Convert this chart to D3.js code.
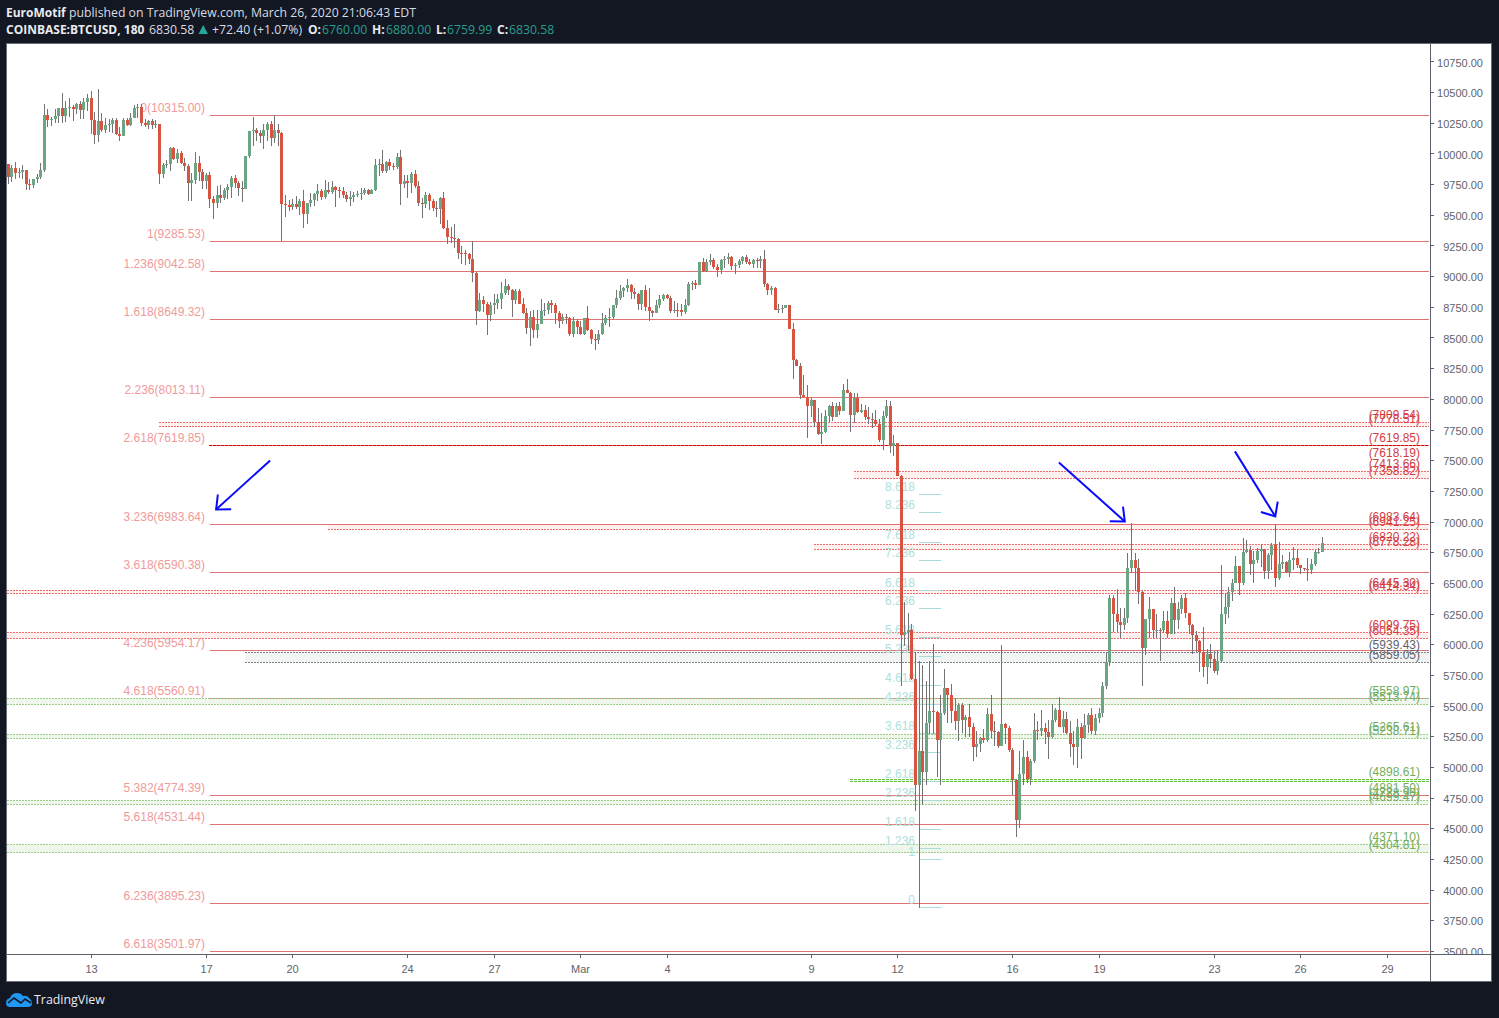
<!DOCTYPE html>
<html><head><meta charset="utf-8">
<script src="https://cdnjs.cloudflare.com/ajax/libs/d3/7.8.5/d3.min.js"></script>
<style>html,body{margin:0;padding:0;background:#131722;overflow:hidden}svg{display:block}</style>
</head><body><div id="c"></div>
<script>
const firstOpen = 9915;
const closes = [
9812,9888,9842,9855,9866,9755,9750,9793,9809,9866,
10314,10276,10282,10306,10371,10306,10377,10380,10366,10404,
10355,10426,10453,10276,10154,10268,10192,10233,10246,10274,
10159,10146,10274,10236,10295,10377,10380,10255,10236,10268,
10236,10246,9833,9907,9915,10048,9958,10005,9923,9899,
9760,9785,9923,9852,9779,9828,9630,9597,9662,9638,
9703,9730,9801,9760,9722,9714,9980,10187,10192,10170,
10143,10192,10241,10132,10192,10168,9594,9580,9564,9588,
9564,9613,9509,9596,9621,9670,9694,9645,9710,9686,
9727,9710,9694,9662,9629,9653,9662,9670,9678,9710,
9670,9710,9906,9914,9857,9931,9898,9890,9971,9751,
9776,9762,9833,9735,9596,9588,9662,9613,9556,9550,
9637,9393,9327,9316,9303,9192,9189,9181,9143,9029,
8719,8806,8773,8684,8765,8789,8814,8863,8923,8887,
8806,8879,8781,8700,8578,8667,8569,8618,8716,8732,
8784,8765,8700,8635,8675,8659,8529,8635,8586,8529,
8659,8561,8488,8480,8529,8626,8659,8667,8765,8822,
8879,8904,8928,8871,8855,8781,8887,8749,8716,8700,
8765,8814,8847,8822,8716,8732,8728,8708,8765,8944,
8947,8931,9116,9042,9116,9132,9075,9058,9132,9140,
9156,9083,9091,9124,9164,9116,9099,9132,9124,9140,
8936,8887,8904,8732,8738,8741,8766,8575,8320,8268,
8032,8020,7942,7991,7812,7714,7730,7861,7942,7853,
7942,7902,8073,8048,7869,8008,7893,7910,7853,7836,
7830,7796,7665,7861,7942,7619,7646,7372,6076,6103,
6117,5717,4856,5138,4962,5364,5456,5453,5220,5440,
5644,5587,5464,5375,5505,5383,5415,5326,5163,5187,
5244,5220,5432,5301,5285,5171,5350,5318,5146,4894,
4568,4943,5089,4902,5049,5309,5293,5318,5285,5252,
5383,5472,5326,5391,5277,5187,5163,5326,5236,5342,
5424,5293,5399,5440,5663,5861,6378,6247,6185,6157,
6220,6628,6687,6622,6429,5970,6212,6288,6117,6122,
6118,6190,6084,6337,6198,6288,6378,6255,6157,6076,
6027,5937,5815,5921,5880,5783,5864,6247,6304,6426,
6500,6638,6500,6753,6769,6655,6687,6761,6777,6598,
6728,6810,6541,6655,6671,6589,6693,6704,6647,6622,
6614,6610,6655,6753,6758,6830.58];
const highs = [
9915,9907,9934,9888,9907,9866,9793,9798,9833,9923,
10404,10363,10301,10363,10377,10494,10431,10453,10399,10418,
10431,10453,10485,10513,10344,10526,10336,10295,10282,10295,
10295,10222,10295,10295,10336,10399,10404,10404,10282,10274,
10282,10274,10246,9929,9948,10056,10056,10037,10024,9969,
9915,9847,10013,9983,9874,9847,9855,9657,9738,9744,
9725,9752,9820,9828,9779,9779,9983,10187,10303,10214,
10192,10241,10263,10268,10317,10241,10176,9662,9624,9629,
9656,9629,9702,9596,9678,9683,9751,9716,9787,9773,
9776,9738,9729,9727,9689,9697,9689,9697,9719,9724,
9716,9716,9955,9960,10036,9941,9955,9928,10004,10036,
9825,9825,9854,9873,9778,9643,9689,9678,9629,9615,
9651,9689,9458,9401,9433,9311,9249,9221,9194,9289,
9034,8863,8841,8792,8792,8855,8855,8955,8977,8944,
8901,8901,8901,8828,8746,8719,8732,8727,8819,8787,
8800,8806,8787,8719,8692,8692,8673,8673,8656,8637,
8659,8760,8575,8534,8569,8705,8684,8746,8765,8895,
8928,8917,8977,8936,8904,8863,8887,8928,8904,8732,
8809,8847,8855,8855,8841,8798,8787,8773,8814,8958,
8963,8972,9118,9154,9140,9181,9154,9107,9140,9167,
9189,9167,9113,9140,9167,9173,9140,9140,9154,9167,
9221,8950,8923,8912,8773,8766,8766,8766,8619,8325,
8298,8195,8114,8013,7991,7931,7885,7910,7950,7978,
7972,7978,8122,8162,8056,8048,8048,7959,7950,7934,
7891,7910,7836,7902,7991,7983,7706,7646,7380,6348,
6255,6171,5943,5867,5832,5704,5867,6003,5459,5587,
5799,5636,5677,5568,5527,5527,5430,5519,5364,5296,
5250,5315,5484,5587,5378,5294,5995,5364,5337,5155,
4902,5133,5220,5133,5065,5440,5377,5472,5364,5383,
5521,5486,5576,5459,5453,5377,5296,5391,5364,5432,
5445,5486,5432,5486,5696,5940,6402,6402,6451,6299,
6301,6744,6994,6744,6695,6437,6212,6391,6288,6247,
6138,6274,6274,6383,6473,6348,6402,6424,6261,6171,
6111,6038,6147,5962,6003,5948,5956,6647,6418,6473,
6538,6723,6641,6872,6853,6804,6763,6791,6823,6769,
6750,6831,6986,6839,6728,6682,6755,6799,6782,6649,
6622,6709,6701,6772,6791,6880];
const lows = [
9757,9771,9793,9806,9793,9706,9706,9719,9760,9793,
9852,10222,10227,10255,10255,10255,10263,10301,10268,10322,
10282,10282,10350,10165,10083,10100,10181,10173,10181,10173,
10154,10105,10146,10227,10227,10290,10295,10227,10219,10200,
10200,10214,9757,9801,9888,9861,9948,9929,9915,9861,
9616,9616,9757,9779,9711,9711,9562,9467,9556,9602,
9621,9630,9643,9725,9657,9611,9714,9969,10064,10105,
10092,10037,10105,10064,10092,10064,9293,9485,9534,9539,
9553,9499,9395,9431,9566,9575,9615,9621,9634,9670,
9670,9564,9637,9643,9607,9575,9607,9645,9621,9664,
9664,9670,9697,9819,9844,9844,9873,9873,9879,9583,
9719,9637,9678,9719,9575,9474,9556,9542,9534,9488,
9425,9390,9262,9276,9230,9140,9099,9091,9099,8955,
8602,8708,8711,8521,8635,8692,8738,8738,8847,8847,
8667,8773,8775,8692,8534,8434,8496,8501,8610,8678,
8692,8700,8610,8578,8618,8610,8515,8510,8529,8521,
8521,8556,8447,8398,8447,8521,8602,8588,8656,8746,
8808,8836,8874,8814,8814,8732,8732,8719,8637,8673,
8705,8746,8800,8814,8700,8700,8673,8678,8692,8760,
8895,8901,8928,9039,9039,9091,9064,8996,9018,9072,
9099,9058,9018,9072,9107,9099,9091,9067,9072,9072,
8914,8847,8847,8732,8700,8706,8741,8570,8162,8268,
7999,8020,7681,7853,7777,7706,7633,7722,7815,7823,
7853,7869,7902,8048,7730,7804,7885,7885,7828,7796,
7763,7782,7652,7584,7850,7559,7537,7372,5660,5990,
5948,5710,4644,3856,4690,4853,5269,5269,4924,4853,
5425,5359,5359,5304,5215,5277,5250,5250,5052,5087,
5125,5200,5207,5242,5174,5160,5171,5190,5125,4774,
4432,4503,4861,4875,4861,5038,5220,5255,5187,5065,
5242,5369,5326,5282,5274,5084,5016,4992,5065,5233,
5282,5269,5261,5364,5410,5636,5826,6106,6106,6054,
6119,6174,6587,6437,6329,5663,5916,6057,6052,6057,
5864,6098,6052,6090,6084,6125,6247,6220,6084,5921,
5943,5780,5736,5677,5812,5772,5750,5859,6166,6215,
6356,6500,6402,6484,6744,6568,6500,6663,6636,6532,
6532,6606,6467,6527,6614,6587,6554,6606,6628,6579,
6600,6516,6573,6641,6742,6759.99];

const timeTickIndex = [23,55,79,111,135,159,183,223,247,279,303,335,359,383];
const timeTickLabels = ["13","17","20","24","27","Mar","4","9","12","16","19","23","26","29"];

const fibLevels = ["0","1","1.236","1.618","2.236","2.618","3.236","3.618","4.236","4.618","5.382","5.618","6.236","6.618"];
const fibPrices = [10315.00,9285.53,9042.58,8649.32,8013.11,7619.85,6983.64,6590.38,5954.17,5560.91,4774.39,4531.44,3895.23,3501.97];

const zoneTop    = [7809.54,7619.85,7413.66,6983.64,6820.22,6445.30,6099.75,5939.43,5558.97,5265.61,4898.61,4728.90,4371.10];
const zoneBottom = [7778.51,7618.19,7358.82,6941.25,6778.28,6414.34,6054.35,5859.05,5513.74,5238.71,4881.50,4699.47,4304.81];
const zoneStartIndex = [42,56,235,89,224,0,0,66,0,0,234,0,0];
const zoneKinds = ["r","d","r","r","r","r","r","g","n","n","s","n","n"];

const tealLevels = ["0","1","1.236","1.618","2.236","2.618","3.236","3.618","4.236","4.618","5.236","5.618","6.236","6.618","7.236","7.618","8.236","8.618"];
const tealPrices = [3859,4250,4342,4491,4733,4882,5124,5273,5515,5664,5906,6055,6297,6446,6688,6837,7079,7228];

const arrowStartIndex = [72.9,292,340.9];
const arrowStartPrice = [7502,7486,7576];
const arrowEndIndex = [57.9,310.3,352.1];
const arrowEndPrice = [7103,7005,7046];

const W=1499,H=1018,L=7,R=1430,T=44,B=954,RE=1491,BE=981;
const x=d3.scaleLinear().domain([0,1]).range([7.7,11.3]);
const y=d3.scaleLinear().domain([10750,3500]).range([61.9,951.5]);
const yp=p=>Math.floor(y(p))+0.5;
const svg=d3.select("#c").append("svg").attr("width",W).attr("height",H).attr("viewBox",`0 0 ${W} ${H}`);
const LAB='"Liberation Sans",Arial,sans-serif', HDR='"Open Sans","Noto Sans",sans-serif';

svg.append("rect").attr("width",W).attr("height",H).attr("fill","#131722");
svg.append("rect").attr("x",L).attr("y",T).attr("width",RE-L).attr("height",BE-T).attr("fill","#fff");

const defs=svg.append("defs");
defs.append("clipPath").attr("id","plot").append("rect").attr("x",L).attr("y",T).attr("width",R-L).attr("height",B-T);
defs.append("clipPath").attr("id","axisY").append("rect").attr("x",R).attr("y",T).attr("width",RE-R).attr("height",B-T);

const plot=svg.append("g").attr("clip-path","url(#plot)");

// main fib lines
fibPrices.forEach(p=>plot.append("line").attr("x1",210).attr("x2",1429).attr("y1",yp(p)).attr("y2",yp(p))
  .attr("stroke","#de7474").attr("shape-rendering","crispEdges"));
// zones
const zc={r:{s:"#ee6e6e",f:"rgba(244,67,54,0.08)",t:"#d43d3d",d:"2 1"},d:{s:"#e80000",f:"rgba(244,67,54,0.08)",t:"#d43d3d",d:"3 1"},
  g:{s:"#808488",f:"rgba(110,125,125,0.09)",t:"#5f6368",d:"2 1"},n:{s:"#9ccb86",f:"rgba(120,180,90,0.12)",t:"#73ad5c",d:"2 1"},s:{s:"#66c23f",f:"rgba(120,180,90,0.12)",t:"#73ad5c",d:"3 1"}};
const xStart=i=>i===0?L:x(i);
zoneTop.forEach((t,i)=>{
  const c=zc[zoneKinds[i]],x0=xStart(zoneStartIndex[i]);
  plot.append("rect").attr("x",x0).attr("y",y(t)).attr("width",1429-x0).attr("height",y(zoneBottom[i])-y(t)).attr("fill",c.f);
  const rows=zoneKinds[i]==="d"?[t]:[t,zoneBottom[i]];
  rows.forEach(p=>plot.append("line").attr("x1",x0).attr("x2",1429).attr("y1",yp(p)).attr("y2",yp(p))
    .attr("stroke",c.s).attr("stroke-dasharray",c.d).attr("shape-rendering","crispEdges"));
});
plot.selectAll("text.fib").data(fibLevels).join("text").attr("x",205).attr("y",(d,i)=>y(fibPrices[i])-3.5)
  .attr("text-anchor","end").attr("font-family",LAB).attr("font-size",12).attr("fill","#f09a9a")
  .text((d,i)=>`${d}(${fibPrices[i].toFixed(2)})`);
// zone labels
const belowLine=new Set([1,10]);
zoneTop.forEach((t,i)=>{
  const c=zc[zoneKinds[i]];
  [[t,false],[zoneBottom[i],belowLine.has(i)]].forEach(([p,below])=>
    plot.append("text").attr("x",1420).attr("y",y(p)+(below?10.5:-3.5)).attr("text-anchor","end").attr("font-family",LAB)
      .attr("font-size",12).attr("fill",c.t).text(`(${p.toFixed(2)})`));
});
// teal fib
tealLevels.forEach((d,i)=>{
  const yy=yp(tealPrices[i]);
  plot.append("line").attr("x1",919).attr("x2",940.5).attr("y1",yy).attr("y2",yy).attr("stroke","#a9dcd8").attr("shape-rendering","crispEdges");
  plot.append("text").attr("x",915).attr("y",yy-4).attr("text-anchor","end").attr("font-family",LAB).attr("font-size",12).attr("fill","#aee0dc").text(d);
});
// candles
const candle=plot.append("g");
closes.forEach((c,i)=>{
  const o=i?closes[i-1]:firstOpen, cx=Math.round(x(i)), up=c>=o;
  candle.append("rect").attr("x",cx).attr("width",1).attr("y",y(highs[i])).attr("height",Math.max(1,y(lows[i])-y(highs[i]))).attr("fill","#737375").attr("shape-rendering","crispEdges");
  const a=Math.round(y(Math.max(o,c))), b=Math.round(y(Math.min(o,c)));
  candle.append("rect").attr("x",cx-1).attr("width",3).attr("y",a).attr("height",Math.max(1,b-a)).attr("fill",up?"#6ba583":"#d75442").attr("shape-rendering","crispEdges");
});
// arrows
arrowStartIndex.forEach((_,i)=>{
  const x0=x(arrowStartIndex[i]),y0=y(arrowStartPrice[i]),x1=x(arrowEndIndex[i]),y1=y(arrowEndPrice[i]);
  const a=Math.atan2(y0-y1,x0-x1),len=15,sp=0.72;
  const pts=[[x1+len*Math.cos(a-sp),y1+len*Math.sin(a-sp)],[x1,y1],[x1+len*Math.cos(a+sp),y1+len*Math.sin(a+sp)]];
  const g=plot.append("g").attr("fill","none").attr("stroke","#0a0aff").attr("stroke-width",2);
  g.append("line").attr("x1",x0).attr("y1",y0).attr("x2",x1).attr("y2",y1);
  g.append("path").attr("d",d3.line()(pts));
});

// axes
const AX="#5d606b",TXT="#5f6368";
const lineG=svg.append("g").attr("stroke",AX).attr("shape-rendering","crispEdges");
lineG.append("rect").attr("x",L-0.5).attr("y",T-0.5).attr("width",RE-L+1).attr("height",BE-T+1).attr("fill","none").attr("stroke","#6a6d78");
lineG.append("line").attr("x1",R+.5).attr("x2",R+.5).attr("y1",T).attr("y2",BE);
lineG.append("line").attr("x1",L).attr("x2",RE).attr("y1",B+.5).attr("y2",B+.5);

const yTicks=d3.range(3500,10751,250);
const yAxisG=svg.append("g").attr("clip-path","url(#axisY)");
yTicks.forEach(v=>{
  const yy=yp(v);
  yAxisG.append("line").attr("x1",R).attr("x2",R+4).attr("y1",yy).attr("y2",yy).attr("stroke",AX).attr("shape-rendering","crispEdges");
  yAxisG.append("text").attr("x",1483).attr("y",y(v)+4.6).attr("text-anchor","end").attr("font-family",LAB).attr("font-size",11).attr("fill",TXT).text(v.toFixed(2));
});
timeTickIndex.forEach((idx,i)=>{
  const xx=Math.round(x(idx))+.5;
  svg.append("line").attr("x1",xx).attr("x2",xx).attr("y1",B).attr("y2",B+4).attr("stroke",AX).attr("shape-rendering","crispEdges");
  svg.append("text").attr("x",xx).attr("y",973).attr("text-anchor","middle").attr("font-family",LAB).attr("font-size",11).attr("fill",TXT).text(timeTickLabels[i]);
});

// header
const hdr=(xx,yy,t,o={})=>svg.append("text").attr("x",xx).attr("y",yy).attr("font-family",HDR).attr("font-size",o.b?12:12.25)
  .attr("font-weight",o.b?700:400).attr("fill",o.c||"#d8dbe2").text(t);
hdr(6,17,"EuroMotif",{b:1,c:"#e8eaef"});
hdr(69,17,"published on TradingView.com, March 26, 2020 21:06:43 EDT");
hdr(6,34,"COINBASE:BTCUSD, 180",{b:1,c:"#e8eaef"});
hdr(149,34,"6830.58");
svg.append("path").attr("d","M198.5 34L208 34L203.2 25Z").attr("fill","#26a69a");
hdr(212,34,"+72.40 (+1.07%)");
const TL="#2a9d8f";
[["O:",308,"6760.00",322],["H:",372,"6880.00",386],["L:",436,"6759.99",447],["C:",497,"6830.58",509]].forEach(r=>{
  hdr(r[1],34,r[0],{b:1,c:"#e8eaef"}); hdr(r[3],34,r[2],{c:TL});
});
// logo
svg.append("path").attr("d","M6 1003Q6 999 10 998Q12 993 17 993Q21 993 23 996Q27 995 29 998Q32 1000 32 1003Q32 1007 28 1007L10 1007Q6 1007 6 1003Z").attr("fill","#2196f3");
svg.append("path").attr("d","M8 1003L14 998L21 1003L25 999L31 1003").attr("fill","none").attr("stroke","#131722").attr("stroke-width",1.6);
svg.append("text").attr("x",34).attr("y",1004).attr("font-family",HDR).attr("font-size",12.4).attr("fill","#e8eaef").text("TradingView");
</script></body></html>
